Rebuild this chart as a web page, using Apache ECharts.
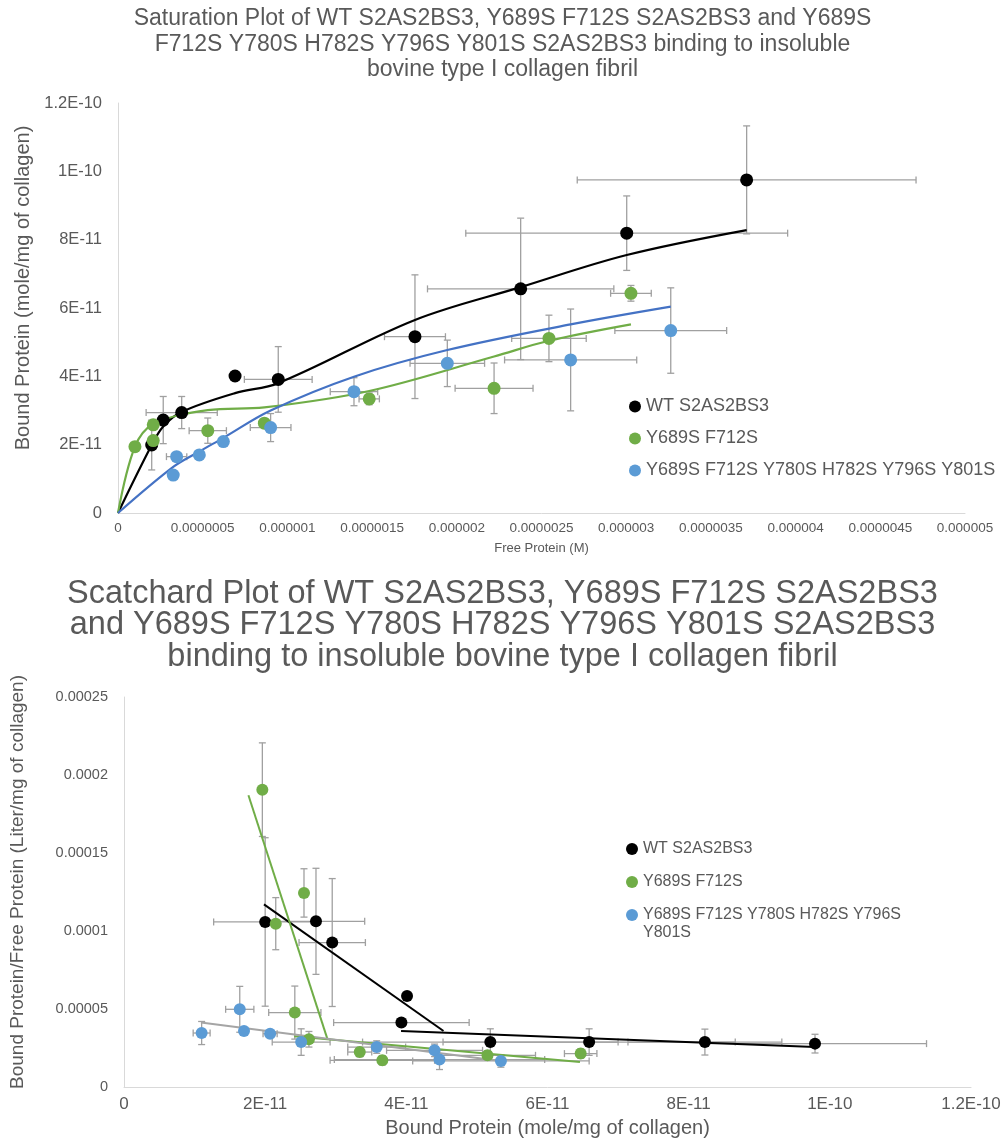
<!DOCTYPE html>
<html>
<head>
<meta charset="utf-8">
<script src="https://cdn.jsdelivr.net/npm/echarts@6/dist/echarts.min.js"></script>
<style>
  html, body { margin: 0; padding: 0; background: #fff; }
  #chart { width: 1005px; height: 1139px; }
</style>
</head>
<body>
<div id="chart"></div>
<script>
// saturation plot: x = free protein (in 1e-6 M), y = bound protein (in 1e-11 mol/mg)
var satWtX     = [0.199, 0.267, 0.376, 0.691, 0.946, 1.753, 2.377, 3.003, 3.711];
var satWtY     = [1.99, 2.72, 2.94, 4.01, 3.91, 5.16, 6.56, 8.19, 9.75];
var satWtXErr  = [0, 0, 0.21, 0, 0.20, 0.18, 0.55, 0.95, 1.00];
var satWtYErr  = [0.73, 0.69, 0.47, 0, 0.96, 1.81, 2.07, 1.09, 1.58];
var satWtFitX  = [0, 0.199, 0.267, 0.376, 0.691, 0.946, 1.753, 2.377, 3.003, 3.711];
var satWtFitY  = [0, 1.99, 2.53, 2.96, 3.51, 3.80, 5.65, 6.61, 7.55, 8.28];

var satDmX     = [0.100, 0.208, 0.208, 0.530, 0.864, 1.483, 2.220, 2.544, 3.028];
var satDmY     = [1.94, 2.58, 2.12, 2.41, 2.63, 3.34, 3.65, 5.11, 6.43];
var satDmXErr  = [0, 0, 0, 0.11, 0, 0.06, 0.23, 0.22, 0.12];
var satDmYErr  = [0, 0, 0, 0.37, 0, 0.17, 0.74, 0.68, 0.23];
var satDmFitX  = [0, 0.100, 0.208, 0.530, 0.864, 1.483, 2.220, 2.544, 3.028];
var satDmFitY  = [0, 1.94, 2.60, 3.01, 3.09, 3.57, 4.58, 5.04, 5.52];

var satHmX     = [0.326, 0.346, 0.480, 0.622, 0.901, 1.393, 1.944, 2.672, 3.263];
var satHmY     = [1.11, 1.65, 1.70, 2.09, 2.50, 3.55, 4.38, 4.48, 5.34];
var satHmXErr  = [0, 0.06, 0, 0, 0.12, 0.14, 0.22, 0.39, 0.33];
var satHmYErr  = [0, 0, 0, 0, 0.41, 0.41, 0.68, 1.49, 1.25];
var satHmFitX  = [0, 0.326, 0.480, 0.622, 0.901, 1.393, 1.944, 2.672, 3.263];
var satHmFitY  = [0, 1.35, 1.80, 2.20, 3.00, 3.99, 4.77, 5.52, 6.04];

// scatchard plot: x = bound protein (in 1e-11 mol/mg), y = bound/free (in 1e-4 L/mg)
var scWtX      = [2.00, 2.72, 2.95, 4.01, 3.93, 5.19, 6.59, 8.23, 9.79];
var scWtY      = [1.058, 1.062, 0.926, 0.583, 0.413, 0.288, 0.288, 0.288, 0.278];
var scWtXErr   = [0.73, 0.69, 0.47, 0, 0.96, 1.81, 2.07, 1.09, 1.58];
var scWtYErr   = [0.54, 0.34, 0.41, 0, 0, 0.085, 0.085, 0.083, 0.06];
var scWtLine1X = [1.983, 4.527];
var scWtLine1Y = [1.171, 0.359];
var scWtLine2X = [3.925, 9.79];
var scWtLine2Y = [0.359, 0.256];

var scDmX      = [1.96, 2.15, 2.55, 2.42, 2.62, 3.34, 3.66, 5.15, 6.47];
var scDmY      = [1.906, 1.047, 1.244, 0.477, 0.306, 0.224, 0.171, 0.203, 0.214];
var scDmXErr   = [0, 0, 0, 0.37, 0, 0.17, 0.74, 0.68, 0.23];
var scDmYErr   = [0.30, 0.167, 0.155, 0.17, 0.05, 0.03, 0.03, 0.03, 0.03];
var scDmLine1X = [1.763, 2.88];
var scDmLine1Y = [1.87, 0.31];
var scDmLine2X = [2.41, 6.46];
var scDmLine2Y = [0.325, 0.16];

var scHmX      = [1.10, 1.64, 1.70, 2.07, 2.51, 3.58, 4.40, 4.47, 5.34];
var scHmY      = [0.346, 0.498, 0.359, 0.342, 0.288, 0.256, 0.235, 0.176, 0.167];
var scHmXErr   = [0.12, 0.20, 0, 0.10, 0.41, 0.41, 0.68, 1.49, 1.25];
var scHmYErr   = [0.074, 0.147, 0, 0, 0.085, 0.04, 0.04, 0.064, 0.04];
var scHmLineX  = [1.09, 5.34];
var scHmLineY  = [0.413, 0.167];

// tick labels
var freeTicks  = ['0', '0.0000005', '0.000001', '0.0000015', '0.000002', '0.0000025',
                  '0.000003', '0.0000035', '0.000004', '0.0000045', '0.000005'];
var boundTicks = ['0', '2E-11', '4E-11', '6E-11', '8E-11', '1E-10', '1.2E-10'];
var ratioTicks = ['0', '0.00005', '0.0001', '0.00015', '0.0002', '0.00025'];

var NAME_WT = 'WT S2AS2BS3';
var NAME_DM = 'Y689S F712S';
var NAME_HM = 'Y689S F712S Y780S H782S Y796S Y801S';

var BLACK = '#000000', GREEN = '#70AD47', BLUE = '#5B9BD5', BLUE_LINE = '#4472C4';
var GRAY_LINE = '#A5A5A5', ERR = '#A0A0A0', TXT = '#595959', AXIS = '#D9D9D9';
var FONT = 'Liberation Sans, Arial, sans-serif';

function pairs(xs, ys) {
  return xs.map(function (x, i) { return [x, ys[i]]; });
}
function errRows(xs, ys, ex, ey) {
  return xs.map(function (x, i) { return [x, ys[i], ex[i], ey[i]]; });
}

// error bars drawn through the axes' own coord()
function renderErr(params, api) {
  var x = api.value(0), y = api.value(1), ex = api.value(2), ey = api.value(3);
  var kids = [], cap = 3.5;
  var st = { stroke: ERR, lineWidth: 1.3 };
  function seg(x1, y1, x2, y2) {
    kids.push({ type: 'line', shape: { x1: x1, y1: y1, x2: x2, y2: y2 }, style: st });
  }
  if (ey > 0) {
    var a = api.coord([x, y - ey]), b = api.coord([x, y + ey]);
    seg(a[0], a[1], b[0], b[1]);
    seg(a[0] - cap, a[1], a[0] + cap, a[1]);
    seg(b[0] - cap, b[1], b[0] + cap, b[1]);
  }
  if (ex > 0) {
    var c = api.coord([x - ex, y]), d = api.coord([x + ex, y]);
    seg(c[0], c[1], d[0], d[1]);
    seg(c[0], c[1] - cap, c[0], c[1] + cap);
    seg(d[0], d[1] - cap, d[0], d[1] + cap);
  }
  return { type: 'group', children: kids };
}

function errSeries(gi, rows) {
  return {
    type: 'custom', xAxisIndex: gi, yAxisIndex: gi, renderItem: renderErr,
    data: rows, encode: { x: 0, y: 1 }, z: 1, silent: true
  };
}
function dotSeries(gi, name, color, data, size) {
  return {
    type: 'scatter', name: name, xAxisIndex: gi, yAxisIndex: gi,
    symbol: 'circle', symbolSize: size, itemStyle: { color: color, opacity: 1 }, data: data, z: 4
  };
}
function lineSeries(gi, color, data, smooth, width) {
  return {
    type: 'line', xAxisIndex: gi, yAxisIndex: gi, data: data, smooth: smooth,
    showSymbol: false, lineStyle: { color: color, width: width }, z: 3, silent: true
  };
}

var chart = echarts.init(document.getElementById('chart'));

var option = {
  animation: false,
  backgroundColor: '#ffffff',
  title: [{
    text: 'Saturation Plot of WT S2AS2BS3, Y689S F712S S2AS2BS3 and Y689S\nF712S Y780S H782S Y796S Y801S S2AS2BS3 binding to insoluble\nbovine type I collagen fibril',
    left: 'center', top: 1,
    textStyle: { fontFamily: FONT, fontSize: 23, fontWeight: 'normal', color: TXT, lineHeight: 25.5 }
  }, {
    text: 'Scatchard Plot of WT S2AS2BS3, Y689S F712S S2AS2BS3\nand Y689S F712S Y780S H782S Y796S Y801S S2AS2BS3\nbinding to insoluble bovine type I collagen fibril',
    left: 'center', top: 573,
    textStyle: { fontFamily: FONT, fontSize: 32.5, fontWeight: 'normal', color: TXT, lineHeight: 31.5 }
  }],
  legend: [{
    orient: 'vertical', left: 624, top: 391, itemGap: 11, itemWidth: 12, itemHeight: 12,
    data: [{ name: NAME_WT, icon: 'circle' }, { name: NAME_DM, icon: 'circle' }, { name: NAME_HM, icon: 'circle' }],
    textStyle: { fontFamily: FONT, fontSize: 18, color: TXT, lineHeight: 21 }
  }, {
    orient: 'vertical', left: 621, top: 835, itemGap: 15, itemWidth: 12, itemHeight: 12,
    data: [{ name: NAME_WT, icon: 'circle' }, { name: NAME_DM, icon: 'circle' }],
    textStyle: { fontFamily: FONT, fontSize: 16, color: TXT, lineHeight: 18 }
  }, {
    // leading blank line keeps the marker level with the first text line
    orient: 'vertical', left: 621, top: 883, itemWidth: 12, itemHeight: 12,
    data: [{ name: NAME_HM, icon: 'circle' }],
    formatter: function () { return ' \nY689S F712S Y780S H782S Y796S\nY801S'; },
    textStyle: { fontFamily: FONT, fontSize: 16, color: TXT, lineHeight: 18 }
  }],
  grid: [
    { left: 118, top: 103, width: 847, height: 410 },
    { left: 123, top: 697, width: 848, height: 390 }
  ],
  xAxis: [{
    gridIndex: 0, type: 'value', min: 0, max: 5, interval: 0.5,
    name: 'Free Protein (M)', nameLocation: 'middle', nameGap: 29,
    nameTextStyle: { fontFamily: FONT, fontSize: 13, color: TXT },
    axisLine: { lineStyle: { color: AXIS, width: 1 } }, axisTick: { show: false }, splitLine: { show: false },
    axisLabel: {
      color: TXT, fontFamily: FONT, fontSize: 13.5, margin: 8,
      formatter: function (v) { return freeTicks[Math.round(v / 0.5)]; }
    }
  }, {
    gridIndex: 1, type: 'value', min: 0, max: 12, interval: 2,
    name: 'Bound Protein (mole/mg of collagen)', nameLocation: 'middle', nameGap: 31,
    nameTextStyle: { fontFamily: FONT, fontSize: 20, color: TXT },
    axisLine: { lineStyle: { color: AXIS, width: 1 } }, axisTick: { show: false }, splitLine: { show: false },
    axisLabel: {
      color: TXT, fontFamily: FONT, fontSize: 17, margin: 9,
      formatter: function (v) { return boundTicks[Math.round(v / 2)]; }
    }
  }],
  yAxis: [{
    gridIndex: 0, type: 'value', min: 0, max: 12, interval: 2,
    name: 'Bound Protein (mole/mg of collagen)', nameLocation: 'middle', nameGap: 85,
    nameTextStyle: { fontFamily: FONT, fontSize: 20, color: TXT, padding: [0, 0, 0, 40] },
    axisLine: { show: true, lineStyle: { color: AXIS, width: 1 } }, axisTick: { show: false }, splitLine: { show: false },
    axisLabel: {
      color: TXT, fontFamily: FONT, fontSize: 16.5, margin: 16,
      formatter: function (v) { return boundTicks[Math.round(v / 2)]; }
    }
  }, {
    gridIndex: 1, type: 'value', min: 0, max: 2.5, interval: 0.5,
    name: 'Bound Protein/Free Protein (Liter/mg of collagen)', nameLocation: 'middle', nameGap: 97,
    nameTextStyle: { fontFamily: FONT, fontSize: 19, color: TXT, padding: [0, 0, 0, 20] },
    axisLine: { show: true, lineStyle: { color: AXIS, width: 1 } }, axisTick: { show: false }, splitLine: { show: false },
    axisLabel: {
      color: TXT, fontFamily: FONT, fontSize: 14.5, margin: 16,
      formatter: function (v) { return ratioTicks[Math.round(v / 0.5)]; }
    }
  }],
  series: [
    // saturation
    errSeries(0, errRows(satWtX, satWtY, satWtXErr, satWtYErr)),
    errSeries(0, errRows(satDmX, satDmY, satDmXErr, satDmYErr)),
    errSeries(0, errRows(satHmX, satHmY, satHmXErr, satHmYErr)),
    lineSeries(0, BLACK, pairs(satWtFitX, satWtFitY), 0.35, 2.2),
    lineSeries(0, GREEN, pairs(satDmFitX, satDmFitY), 0.35, 2.2),
    lineSeries(0, BLUE_LINE, pairs(satHmFitX, satHmFitY), 0.35, 2.2),
    dotSeries(0, NAME_WT, BLACK, pairs(satWtX, satWtY), 13),
    dotSeries(0, NAME_DM, GREEN, pairs(satDmX, satDmY), 13),
    dotSeries(0, NAME_HM, BLUE, pairs(satHmX, satHmY), 13),
    // scatchard
    errSeries(1, errRows(scWtX, scWtY, scWtXErr, scWtYErr)),
    errSeries(1, errRows(scDmX, scDmY, scDmXErr, scDmYErr)),
    errSeries(1, errRows(scHmX, scHmY, scHmXErr, scHmYErr)),
    lineSeries(1, BLACK, pairs(scWtLine1X, scWtLine1Y), false, 2),
    lineSeries(1, BLACK, pairs(scWtLine2X, scWtLine2Y), false, 2),
    lineSeries(1, GREEN, pairs(scDmLine1X, scDmLine1Y), false, 2),
    lineSeries(1, GREEN, pairs(scDmLine2X, scDmLine2Y), false, 2),
    lineSeries(1, GRAY_LINE, pairs(scHmLineX, scHmLineY), false, 2),
    dotSeries(1, NAME_WT, BLACK, pairs(scWtX, scWtY), 12),
    dotSeries(1, NAME_DM, GREEN, pairs(scDmX, scDmY), 12),
    dotSeries(1, NAME_HM, BLUE, pairs(scHmX, scHmY), 12)
  ]
};

chart.setOption(option);
</script>
</body>
</html>
